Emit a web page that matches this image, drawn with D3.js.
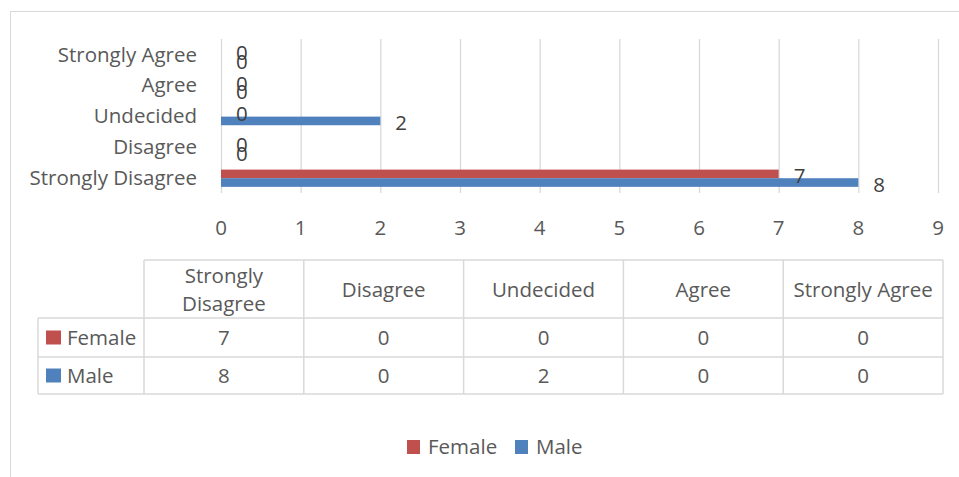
<!DOCTYPE html>
<html>
<head>
<meta charset="utf-8">
<script src="https://cdn.jsdelivr.net/npm/d3@7"></script>
<style>
  body { margin: 0; background: #fff; }
  text { font-family: "Open Sans", "Noto Sans", sans-serif; fill: #595959; }
</style>
</head>
<body>
<svg id="chart" width="959" height="477"></svg>
<script>
// categories as they appear in the table (left to right)
var categories = ["Strongly Disagree", "Disagree", "Undecided", "Agree", "Strongly Agree"];
var seriesNames = ["Female", "Male"];
var femaleValues = [7, 0, 0, 0, 0];
var maleValues = [8, 0, 2, 0, 0];
var xTicks = [0, 1, 2, 3, 4, 5, 6, 7, 8, 9];
var colors = ["#C0504D", "#4F81BD"];

var svg = d3.select("#chart");
var fontSize = 20.5;

// chart frame
svg.append("rect")
  .attr("x", 10.5).attr("y", 11.5)
  .attr("width", 980).attr("height", 500)
  .attr("fill", "none").attr("stroke", "#d9d9d9");

var rows = categories.map(function(c, i) {
  return { key: c, Female: femaleValues[i], Male: maleValues[i] };
});

var x = d3.scaleLinear().domain([0, 9]).range([221, 938]);
// bars read bottom-up, so reverse for the band scale
var y = d3.scaleBand().domain(categories.slice().reverse()).range([39, 193]);
var ySub = d3.scaleBand().domain(seriesNames)
  .range([y.bandwidth() * 0.24, y.bandwidth() * 0.8]);
var color = d3.scaleOrdinal().domain(seriesNames).range(colors);

// gridlines
svg.append("g").selectAll("line")
  .data(xTicks)
  .enter().append("line")
  .attr("x1", function(d) { return x(d) + 0.5; })
  .attr("x2", function(d) { return x(d) + 0.5; })
  .attr("y1", 39).attr("y2", 193)
  .attr("stroke", "#d9d9d9").attr("stroke-width", 1.3);

// x tick labels
svg.append("g").selectAll("text")
  .data(xTicks)
  .enter().append("text")
  .attr("x", function(d) { return x(d); })
  .attr("y", 228)
  .attr("dy", "0.35em")
  .attr("text-anchor", "middle")
  .style("font-size", fontSize + "px")
  .text(function(d) { return d; });

// category labels
svg.append("g").selectAll("text")
  .data(categories)
  .enter().append("text")
  .attr("x", 197)
  .attr("y", function(d) { return y(d) + y.bandwidth() / 2; })
  .attr("dy", "0.35em")
  .attr("text-anchor", "end")
  .style("font-size", fontSize + "px")
  .text(function(d) { return d; });

// bars
var groups = svg.append("g").selectAll("g")
  .data(rows)
  .enter().append("g")
  .attr("transform", function(d) { return "translate(0," + y(d.key) + ")"; });

groups.selectAll("rect")
  .data(function(d) { return seriesNames.map(function(s) { return { s: s, v: d[s] }; }); })
  .enter().append("rect")
  .attr("x", x(0))
  .attr("y", function(d) { return ySub(d.s); })
  .attr("width", function(d) { return x(d.v) - x(0); })
  .attr("height", ySub.bandwidth())
  .attr("fill", function(d) { return color(d.s); });

// data labels (zero labels overlap, as in the original)
groups.selectAll("text")
  .data(function(d) { return seriesNames.map(function(s) { return { s: s, v: d[s] }; }); })
  .enter().append("text")
  .attr("x", function(d) { return x(d.v) + 15; })
  .attr("y", function(d) { return ySub(d.s) + ySub.bandwidth() / 2 + 2; })
  .attr("dy", "0.35em")
  .style("font-size", fontSize + "px")
  .style("fill", "#404040")
  .text(function(d) { return d.v; });

// ----- data table -----
var tLeft = 144, tRight = 943, legLeft = 38;
var rowTops = [260, 318, 357, 394];
var col = d3.scaleBand().domain(categories).range([tLeft, tRight]);
var tbl = svg.append("g").attr("stroke", "#d9d9d9").attr("stroke-width", 1.5);

tbl.append("line").attr("x1", tLeft).attr("x2", tRight).attr("y1", rowTops[0]).attr("y2", rowTops[0]);
for (var r = 1; r < rowTops.length; r++) {
  tbl.append("line").attr("x1", legLeft).attr("x2", tRight).attr("y1", rowTops[r]).attr("y2", rowTops[r]);
}
tbl.append("line").attr("x1", legLeft).attr("x2", legLeft).attr("y1", rowTops[1]).attr("y2", rowTops[3]);
categories.concat(["end"]).forEach(function(c, i) {
  var xx = i < categories.length ? col(c) : tRight;
  tbl.append("line").attr("x1", xx).attr("x2", xx).attr("y1", rowTops[0]).attr("y2", rowTops[3]);
});

// header
categories.forEach(function(c) {
  var t = svg.append("text")
    .attr("x", col(c) + col.bandwidth() / 2)
    .attr("text-anchor", "middle")
    .style("font-size", fontSize + "px");
  if (c === "Strongly Disagree") {
    t.append("tspan").attr("x", col(c) + col.bandwidth() / 2).attr("y", 276).attr("dy", "0.35em").text("Strongly");
    t.append("tspan").attr("x", col(c) + col.bandwidth() / 2).attr("y", 304).attr("dy", "0.35em").text("Disagree");
  } else {
    t.attr("y", 290).attr("dy", "0.35em").text(c);
  }
});

// body rows
var tableSeries = [femaleValues, maleValues];
seriesNames.forEach(function(s, i) {
  var cy = (rowTops[i + 1] + rowTops[i + 2]) / 2;
  svg.append("rect")
    .attr("x", 46).attr("y", cy - 7)
    .attr("width", 15).attr("height", 14)
    .attr("fill", color(s));
  svg.append("text")
    .attr("x", 67).attr("y", cy).attr("dy", "0.35em")
    .style("font-size", fontSize + "px")
    .text(s);
  tableSeries[i].forEach(function(v, j) {
    svg.append("text")
      .attr("x", col(categories[j]) + col.bandwidth() / 2)
      .attr("y", cy).attr("dy", "0.35em")
      .attr("text-anchor", "middle")
      .style("font-size", fontSize + "px")
      .text(v);
  });
});

// legend
var legend = svg.append("g").selectAll("g")
  .data(seriesNames)
  .enter().append("g")
  .attr("transform", function(d, i) { return "translate(" + [407, 515][i] + ",447)"; });
legend.append("rect")
  .attr("x", 0).attr("y", -7)
  .attr("width", 13).attr("height", 14)
  .attr("fill", function(d) { return color(d); });
legend.append("text")
  .attr("x", 21).attr("dy", "0.35em")
  .style("font-size", fontSize + "px")
  .text(function(d) { return d; });
</script>
</body>
</html>
